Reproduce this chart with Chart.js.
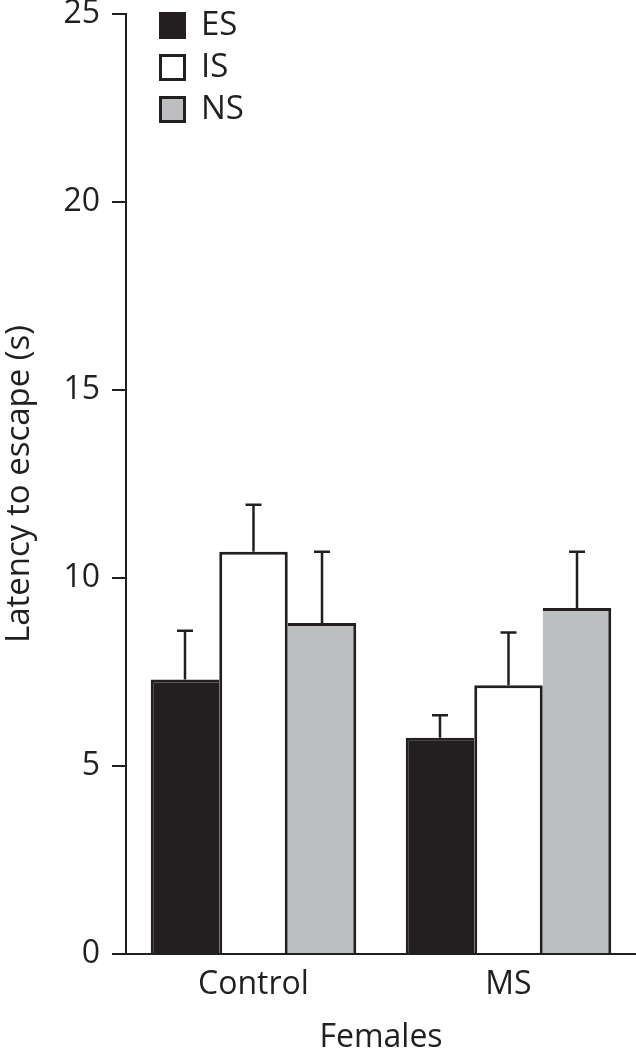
<!DOCTYPE html>
<html>
<head>
<meta charset="utf-8">
<script src="https://cdn.jsdelivr.net/npm/chart.js@4/dist/chart.umd.min.js"></script>
<style>
  body { margin: 0; background: #fff; }
  canvas { display: block; }
</style>
</head>
<body>
<canvas id="myChart" width="636" height="1050"></canvas>
<script>
const groups = ['Control', 'MS']
const seriesNames = ['ES', 'IS', 'NS']
const esMeans = [7.3, 5.75]
const isMeans = [10.7, 7.15]
const nsMeans = [8.8, 9.2]
const esErrors = [1.3, 0.6]
const isErrors = [1.25, 1.4]
const nsErrors = [1.9, 1.5]
const yTicks = [0, 5, 10, 15, 20, 25]

const ink = '#231f20'
const font = "'Open Sans', sans-serif"

// error bars, only the upper half
const errorBars = {
  id: 'errorBars',
  afterDatasetsDraw(chart) {
    const ctx = chart.ctx
    const y = chart.scales.y
    ctx.save()
    ctx.strokeStyle = ink
    ctx.lineWidth = 2.5
    chart.data.datasets.forEach((ds, i) => {
      chart.getDatasetMeta(i).data.forEach((bar, j) => {
        const top = y.getPixelForValue(ds.data[j] + ds.errors[j])
        ctx.beginPath()
        ctx.moveTo(bar.x, bar.y)
        ctx.lineTo(bar.x, top)
        ctx.moveTo(bar.x - 8, top)
        ctx.lineTo(bar.x + 8, top)
        ctx.stroke()
      })
    })
    ctx.restore()
  }
}

// stacked legend in the top left corner
const boxLegend = {
  id: 'boxLegend',
  afterDraw(chart) {
    const ctx = chart.ctx
    const left = chart.chartArea.left + 33
    ctx.save()
    ctx.font = '33px ' + font
    ctx.textBaseline = 'middle'
    chart.data.datasets.forEach((ds, i) => {
      const cy = 25 + i * 42
      ctx.fillStyle = ds.backgroundColor
      ctx.fillRect(left, cy - 13, 27, 27)
      ctx.strokeStyle = ink
      ctx.lineWidth = 3
      ctx.strokeRect(left + 1.5, cy - 11.5, 24, 24)
      ctx.fillStyle = ink
      ctx.fillText(ds.label, left + 42, cy + 1)
    })
    ctx.restore()
  }
}

const ctx = document.getElementById('myChart').getContext('2d')
const chart = new Chart(ctx, {
  type: 'bar',
  data: {
    labels: groups,
    datasets: [{
      label: seriesNames[0],
      data: esMeans,
      errors: esErrors,
      backgroundColor: ink,
      borderColor: ink,
      borderWidth: {top: 3, left: 3, right: 0, bottom: 0}
    }, {
      label: seriesNames[1],
      data: isMeans,
      errors: isErrors,
      backgroundColor: '#ffffff',
      borderColor: ink,
      borderWidth: {top: 3, left: 3, right: 3, bottom: 0}
    }, {
      label: seriesNames[2],
      data: nsMeans,
      errors: nsErrors,
      backgroundColor: '#bcbec0',
      borderColor: ink,
      borderWidth: {top: 3, left: 0, right: 3, bottom: 0}
    }]
  },
  options: {
    responsive: false,
    animation: false,
    layout: { padding: { top: 14, right: 0, left: 0, bottom: 0 } },
    datasets: { bar: { categoryPercentage: 0.806, barPercentage: 1.0, borderSkipped: false } },
    plugins: { legend: { display: false }, tooltip: { enabled: false } },
    scales: {
      x: {
        grid: { display: false },
        border: { display: true, color: ink, width: 2 },
        ticks: { color: ink, font: { family: font, size: 32 }, padding: 4 },
        title: { display: true, text: 'Females', color: ink, font: { family: font, size: 32 }, padding: { top: 4, bottom: -7 } },
        afterFit(scale) { scale.height = 96 }
      },
      y: {
        min: 0,
        max: 25,
        afterBuildTicks(scale) { scale.ticks = yTicks.map(v => ({ value: v })) },
        grid: { drawOnChartArea: false, drawTicks: true, tickLength: 14, color: ink, lineWidth: 2 },
        border: { display: true, color: ink, width: 2 },
        ticks: { color: ink, font: { family: font, size: 32 }, padding: 12 },
        title: { display: true, text: 'Latency to escape (s)', color: ink, font: { family: font, size: 33 }, padding: { top: 0, bottom: -4 } },
        afterFit(scale) {
          scale.width = 126
          scale.paddingTop = 0
          scale.paddingBottom = 0
        }
      }
    }
  },
  plugins: [errorBars, boxLegend]
})
</script>
</body>
</html>
